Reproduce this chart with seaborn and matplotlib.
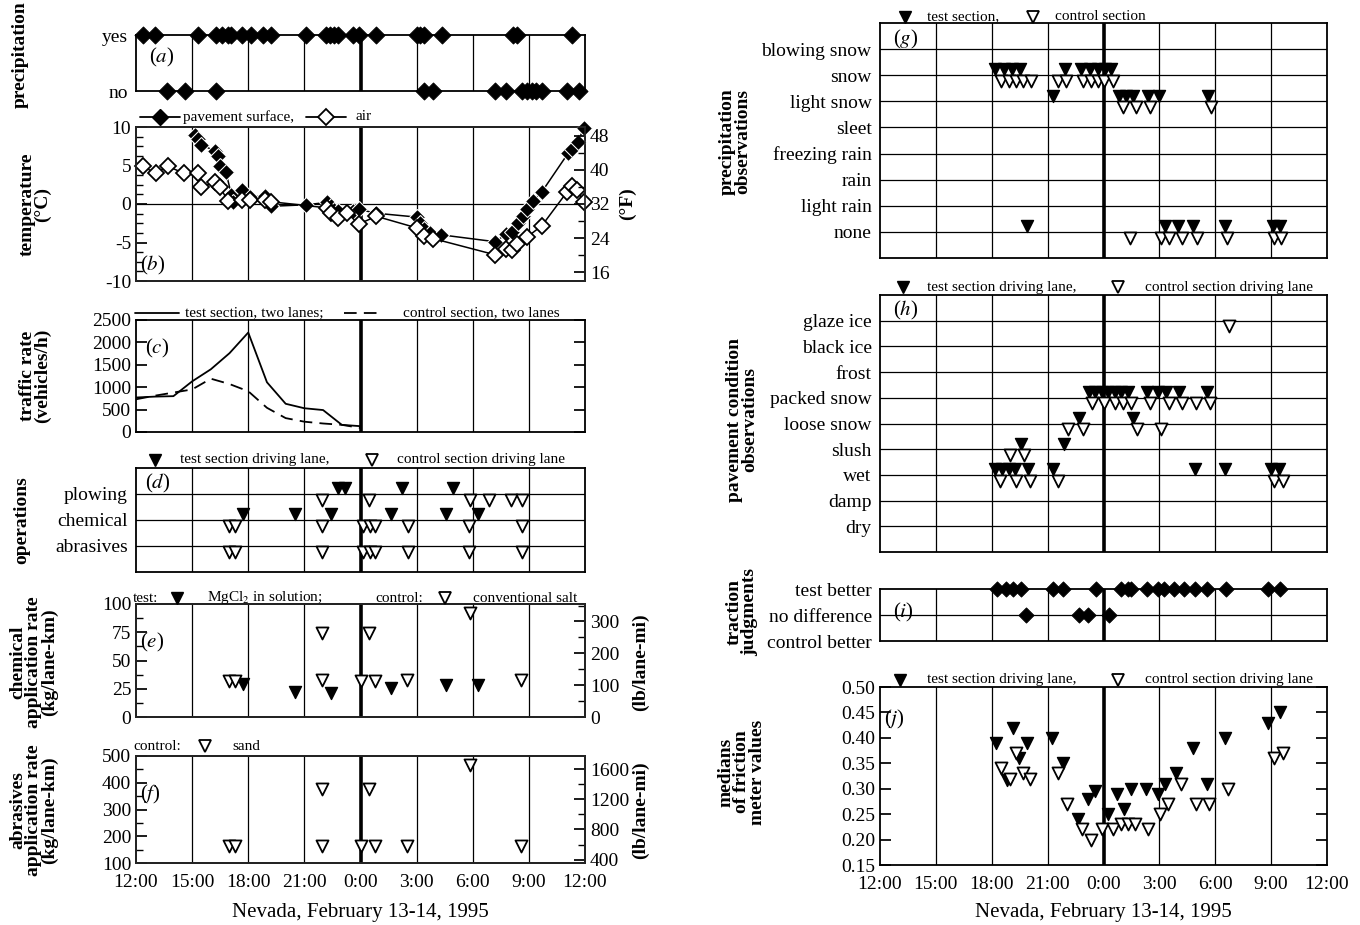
import matplotlib
matplotlib.use('Agg')
import numpy as np
import pandas as pd
import matplotlib.pyplot as plt
from matplotlib.lines import Line2D
from matplotlib.ticker import MultipleLocator
import seaborn as sns

sns.set_theme(style='ticks')
plt.rcParams['font.family'] = ['Liberation Serif', 'DejaVu Serif']
plt.rcParams['mathtext.fontset'] = 'stix'
plt.rcParams['axes.unicode_minus'] = False
plt.rcParams['text.color'] = 'black'
plt.rcParams['xtick.color'] = 'black'
plt.rcParams['ytick.color'] = 'black'

# time axis (hours after noon of Feb 13; 24 = midnight)
hour_ticks = [12, 15, 18, 21, 24, 27, 30, 33, 36]
hour_labels = ['12:00', '15:00', '18:00', '21:00', '0:00', '3:00', '6:00', '9:00', '12:00']

# (a) precipitation yes / no
precip_yes = [12.4, 13.0, 15.3, 16.3, 16.6, 16.9, 17.1, 17.65, 18.15, 18.8, 19.2, 21.1, 22.15,
              22.35, 22.6, 22.8, 23.6, 23.9, 24.85, 27.0, 27.2, 27.4, 28.35, 32.15, 32.35, 35.3]
precip_no = [13.65, 14.6, 16.3, 27.4, 27.9, 31.2, 31.8, 32.65, 32.9, 33.15, 33.4, 33.7, 35.05, 35.7]

# (b) temperature
pave_t = [15.18, 15.3, 15.5, 16.2, 16.4, 16.5, 16.8, 17.1, 17.2, 17.65, 18.1, 18.9, 19.2, 21.1,
          22.2, 22.4, 22.6, 22.8, 23.6, 23.9, 24.85, 27.0, 27.2, 27.4, 27.7, 28.3, 31.2, 31.8,
          32.1, 32.4, 32.7, 32.9, 33.2, 33.7, 35.1, 35.3, 35.6, 35.95]
pave_c = [8.9, 8.4, 7.7, 6.9, 6.2, 5.0, 4.2, 1.2, 0.3, 1.8, 0.9, 1.1, -0.3, -0.1,
          0.2, -0.2, -0.8, -0.9, -0.9, -0.7, -1.2, -1.7, -2.5, -3.2, -3.8, -4.0, -4.9, -3.9,
          -3.6, -2.5, -1.5, -0.6, 0.4, 1.6, 6.6, 7.2, 8.0, 9.9]
air_t = [12.35, 13.05, 13.7, 14.55, 15.3, 15.5, 16.2, 16.5, 16.9, 17.65, 18.1, 18.9, 19.2, 22.2,
         22.4, 22.8, 23.3, 23.9, 24.85, 27.0, 27.4, 27.9, 31.2, 31.8, 32.1, 32.35, 32.9, 33.7,
         35.05, 35.3, 35.55, 35.95]
air_c = [4.9, 4.0, 4.9, 4.0, 4.0, 2.2, 2.8, 2.2, 0.4, 0.5, 0.5, 0.5, 0.3, -0.5,
         -1.2, -1.8, -1.2, -2.6, -1.6, -3.1, -4.1, -4.5, -6.6, -5.8, -6.0, -5.2, -4.3, -2.8,
         1.6, 2.4, 1.8, 0.3]

# (c) traffic rate
traffic_t = [12, 13, 14, 15, 16, 17, 18, 19, 20, 21, 22, 23, 24]
traffic_test = [770, 790, 800, 1130, 1400, 1760, 2220, 1110, 630, 530, 490, 160, 130]
traffic_ctrl = [730, 810, 880, 950, 1190, 1070, 910, 540, 310, 230, 190, 160, 90]

# (d) operations
ops_rows = ['plowing', 'chemical', 'abrasives']
plow_test = [22.8, 23.15, 26.2, 28.95]
plow_ctrl = [21.95, 24.45, 29.85, 30.85, 32.05, 32.65]
chem_test = [17.7, 20.5, 22.4, 25.65, 28.55, 30.3]
chem_ctrl = [16.95, 17.3, 21.95, 24.15, 24.5, 24.8, 26.55, 29.8, 32.65]
abr_ctrl = [16.95, 17.3, 21.95, 24.15, 24.5, 24.8, 26.55, 29.8, 32.65]

# (e) chemical application rate (kg/lane-km)
chem_rate_test_t = [17.7, 20.5, 22.4, 25.65, 28.55, 30.3]
chem_rate_test = [29, 22, 21, 26, 28, 28]
chem_rate_ctrl_t = [16.95, 17.3, 21.95, 21.95, 24.0, 24.45, 24.75, 26.5, 29.85, 32.6]
chem_rate_ctrl = [32, 32, 74, 33, 32, 74, 32, 33, 92, 33]

# (f) abrasives application rate (kg/lane-km)
sand_t = [16.95, 17.3, 21.95, 21.95, 24.0, 24.45, 24.75, 26.5, 29.85, 32.6]
sand_rate = [165, 165, 375, 165, 165, 375, 165, 165, 465, 165]

# (g) precipitation observations
precip_cats = ['blowing snow', 'snow', 'light snow', 'sleet', 'freezing rain', 'rain',
               'light rain', 'none']
g_test = {'snow': [18.2, 18.65, 19.1, 19.5, 21.95, 22.8, 23.25, 23.7, 24.1, 24.4],
          'light snow': [21.3, 24.85, 25.2, 25.6, 26.4, 27.0, 29.6],
          'none': [19.9, 27.3, 28.0, 28.8, 30.55, 33.1, 33.5]}
g_ctrl = {'snow': [18.5, 18.9, 19.3, 19.7, 20.1, 21.55, 22.0, 22.9, 23.35, 23.7, 24.05, 24.5],
          'light snow': [25.05, 25.75, 26.5, 29.75],
          'none': [25.4, 27.1, 27.5, 28.2, 29.0, 30.65, 33.15, 33.55]}

# (h) pavement condition observations
pave_cats = ['glaze ice', 'black ice', 'frost', 'packed snow', 'loose snow', 'slush', 'wet',
             'damp', 'dry']
h_test = {'packed snow': [23.2, 23.55, 23.9, 24.25, 24.6, 24.95, 25.3, 26.35, 26.9, 27.35, 28.05, 29.55],
          'loose snow': [22.7, 25.6],
          'slush': [19.55, 21.9],
          'wet': [18.2, 18.55, 18.9, 19.25, 19.95, 21.3, 28.9, 30.55, 33.0, 33.4]}
h_ctrl = {'glaze ice': [30.75],
          'packed snow': [23.4, 24.0, 24.6, 25.05, 25.45, 26.5, 27.5, 28.2, 28.95, 29.7],
          'loose snow': [22.1, 22.9, 25.8, 27.1],
          'slush': [19.0, 19.75],
          'wet': [18.45, 19.3, 20.05, 21.55, 33.15, 33.65]}

# (i) traction judgments
judge_cats = ['test better', 'no difference', 'control better']
judge_test_better = [18.3, 18.75, 19.15, 19.55, 21.3, 21.85, 23.6, 24.95, 25.3, 25.5, 26.35,
                     26.9, 27.25, 27.8, 28.3, 28.9, 29.55, 30.6, 32.85, 33.45]
judge_no_diff = [19.85, 22.7, 23.15, 24.3]

# (j) friction medians
fr_test_t = [18.25, 18.8, 19.15, 19.45, 19.9, 21.25, 21.8, 22.65, 23.15, 23.55, 24.25, 24.75,
             25.1, 25.5, 26.3, 26.9, 27.3, 27.9, 28.8, 29.55, 30.5, 32.85, 33.45]
fr_test = [0.39, 0.317, 0.42, 0.36, 0.39, 0.40, 0.35, 0.24, 0.28, 0.295, 0.25, 0.29,
           0.26, 0.30, 0.30, 0.29, 0.31, 0.33, 0.38, 0.31, 0.40, 0.43, 0.45]
fr_ctrl_t = [18.5, 19.0, 19.3, 19.7, 20.05, 21.55, 22.05, 22.85, 23.35, 23.9, 24.5, 24.95,
             25.3, 25.7, 26.4, 27.05, 27.45, 28.15, 28.95, 29.65, 30.7, 33.15, 33.65]
fr_ctrl = [0.34, 0.32, 0.37, 0.33, 0.32, 0.33, 0.27, 0.22, 0.20, 0.22, 0.22, 0.23,
           0.23, 0.23, 0.22, 0.25, 0.27, 0.31, 0.27, 0.27, 0.30, 0.36, 0.37]

KG_TO_LB = 3.548  # kg/lane-km -> lb/lane-mi

W, H = 1360, 925
fig = plt.figure(figsize=(13.6, 9.25), dpi=100)


def add_ax(x0, x1, ytop, ybot):
    return fig.add_axes([x0 / W, 1 - ybot / H, (x1 - x0) / W, (ybot - ytop) / H])


def time_axis(ax, labels=False):
    ax.set_xlim(12, 36)
    ax.set_xticks(hour_ticks)
    ax.set_xticklabels(hour_labels if labels else [])
    ax.tick_params(axis='x', length=0, labelsize=14, pad=8)
    for t in hour_ticks[1:-1]:
        ax.axvline(t, color='black', lw=2.6 if t == 24 else 0.9, zorder=1)
    for s in ax.spines.values():
        s.set_linewidth(1.3)
        s.set_color('black')
    ax.set_xlabel('')
    ax.set_ylabel('')


def fig_text(x, y, s, size=11, ha='left', **kw):
    fig.text(x / W, 1 - y / H, s, ha=ha, va='center', fontsize=size, **kw)


def fig_key(x, y, kind):
    fy = 1 - y / H
    if kind == 'filled_v':
        art = Line2D([x / W], [fy], marker='v', markersize=8, color='black', ls='none')
    elif kind == 'open_v':
        art = Line2D([x / W], [fy], marker='v', markersize=8, mfc='white', mec='black',
                     mew=1.3, ls='none')
    elif kind == 'solid':
        art = Line2D([(x - 22) / W, (x + 22) / W], [fy, fy], color='black', lw=1.3)
    elif kind == 'dashed':
        art = Line2D([(x - 18) / W, (x + 18) / W], [fy, fy], color='black', lw=1.3,
                     dashes=(7, 4))
    elif kind == 'line_D':
        art = Line2D([(x - 20) / W, x / W, (x + 20) / W], [fy, fy, fy], color='black', lw=1.3,
                     marker='D', markersize=8, markevery=[1])
    else:
        art = Line2D([(x - 20) / W, x / W, (x + 20) / W], [fy, fy, fy], color='black', lw=1.3,
                     marker='D', markersize=8, mfc='white', mec='black', mew=1.3,
                     markevery=[1])
    fig.add_artist(art)


def tri(ax, xs, ys, filled):
    df = pd.DataFrame({'t': xs, 'v': ys})
    if filled:
        sns.scatterplot(data=df, x='t', y='v', marker='v', s=75, color='black',
                        edgecolor='black', linewidth=1, ax=ax, zorder=5, clip_on=False)
    else:
        sns.scatterplot(data=df, x='t', y='v', marker='v', s=75, color='white',
                        edgecolor='black', linewidth=1.3, ax=ax, zorder=5, clip_on=False)


LX0, LX1 = 136, 585
RX0, RX1 = 880, 1327
OFF = 0.22

# ---------------- (a)
ax_a = add_ax(LX0, LX1, 35, 91)
df_a = pd.DataFrame({'t': precip_yes + precip_no,
                     'v': [1] * len(precip_yes) + [0] * len(precip_no)})
sns.scatterplot(data=df_a, x='t', y='v', marker='D', s=75, color='black', edgecolor='black',
                ax=ax_a, zorder=5, clip_on=False)
ax_a.set_ylim(0, 1)
ax_a.set_yticks([0, 1])
ax_a.set_yticklabels(['no', 'yes'])
ax_a.tick_params(axis='y', length=0, labelsize=14, pad=6)
time_axis(ax_a)
ax_a.text(0.03, 0.6, r'($\mathit{a}$)', transform=ax_a.transAxes, fontsize=15, va='center')

# ---------------- (b)
ax_b = add_ax(LX0, LX1, 127, 281)
sns.lineplot(x=pave_t, y=pave_c, marker='D', markersize=8, color='black', lw=1.1,
             estimator=None, sort=False, ax=ax_b, zorder=4, clip_on=False)
sns.lineplot(x=air_t, y=air_c, marker='D', markersize=8, color='black', lw=1.1,
             markerfacecolor='white', markeredgecolor='black', markeredgewidth=1.3,
             estimator=None, sort=False, ax=ax_b, zorder=4, clip_on=False)
ax_b.axhline(0, color='black', lw=0.9, zorder=1)
ax_b.set_ylim(-10, 10)
ax_b.set_yticks([-10, -5, 0, 5, 10])
ax_b.yaxis.set_minor_locator(MultipleLocator(1.25))
ax_b.tick_params(axis='y', which='major', direction='in', length=8, labelsize=14)
ax_b.tick_params(axis='y', which='minor', direction='in', length=5)
time_axis(ax_b)
ax_b2 = ax_b.twinx()
ax_b2.set_ylim(14, 50)
ax_b2.set_yticks([16, 24, 32, 40, 48])
ax_b2.yaxis.set_minor_locator(MultipleLocator(4))
ax_b2.tick_params(axis='y', which='major', direction='in', length=8, labelsize=14)
ax_b2.tick_params(axis='y', which='minor', direction='in', length=5)
ax_b.text(0.01, 0.1, r'($\mathit{b}$)', transform=ax_b.transAxes, fontsize=15, va='center')

# ---------------- (c)
ax_c = add_ax(LX0, LX1, 320, 432)
sns.lineplot(x=traffic_t, y=traffic_test, color='black', lw=1.3, estimator=None, ax=ax_c,
             zorder=4)
sns.lineplot(x=traffic_t, y=traffic_ctrl, color='black', lw=1.3, estimator=None, ax=ax_c,
             zorder=4, dashes=False, linestyle=(0, (7, 4)))
ax_c.set_ylim(0, 2500)
ax_c.set_yticks([0, 500, 1000, 1500, 2000, 2500])
ax_c.tick_params(axis='y', direction='in', length=8, labelsize=14, right=True,
                 labelright=False)
time_axis(ax_c)
ax_c.text(0.02, 0.75, r'($\mathit{c}$)', transform=ax_c.transAxes, fontsize=15, va='center')

# ---------------- (d)
ax_d = add_ax(LX0, LX1, 468, 572)
ops_pos = {name: len(ops_rows) - i for i, name in enumerate(ops_rows)}
tri(ax_d, plow_test, [ops_pos['plowing'] + OFF] * len(plow_test), True)
tri(ax_d, chem_test, [ops_pos['chemical'] + OFF] * len(chem_test), True)
tri(ax_d, plow_ctrl, [ops_pos['plowing'] - OFF] * len(plow_ctrl), False)
tri(ax_d, chem_ctrl, [ops_pos['chemical'] - OFF] * len(chem_ctrl), False)
tri(ax_d, abr_ctrl, [ops_pos['abrasives'] - OFF] * len(abr_ctrl), False)
for name in ops_rows:
    ax_d.axhline(ops_pos[name], color='black', lw=0.9, zorder=1)
ax_d.set_ylim(0, 4)
ax_d.set_yticks([ops_pos[n] for n in ops_rows])
ax_d.set_yticklabels(ops_rows)
ax_d.tick_params(axis='y', length=0, labelsize=14, pad=6)
time_axis(ax_d)
ax_d.text(0.02, 0.85, r'($\mathit{d}$)', transform=ax_d.transAxes, fontsize=15, va='center')

# ---------------- (e)
ax_e = add_ax(LX0, LX1, 604, 717)
tri(ax_e, chem_rate_test_t, chem_rate_test, True)
tri(ax_e, chem_rate_ctrl_t, chem_rate_ctrl, False)
ax_e.set_ylim(0, 100)
ax_e.set_yticks([0, 25, 50, 75, 100])
ax_e.yaxis.set_minor_locator(MultipleLocator(12.5))
ax_e.tick_params(axis='y', which='major', direction='in', length=8, labelsize=14)
ax_e.tick_params(axis='y', which='minor', direction='in', length=5)
time_axis(ax_e)
ax_e2 = ax_e.twinx()
ax_e2.set_ylim(0, 100 * KG_TO_LB)
ax_e2.set_yticks([0, 100, 200, 300])
ax_e2.yaxis.set_minor_locator(MultipleLocator(50))
ax_e2.tick_params(axis='y', which='major', direction='in', length=8, labelsize=14)
ax_e2.tick_params(axis='y', which='minor', direction='in', length=5)
ax_e.text(0.01, 0.66, r'($\mathit{e}$)', transform=ax_e.transAxes, fontsize=15, va='center')

# ---------------- (f)
ax_f = add_ax(LX0, LX1, 756, 863)
tri(ax_f, sand_t, sand_rate, False)
ax_f.set_ylim(100, 500)
ax_f.set_yticks([100, 200, 300, 400, 500])
ax_f.yaxis.set_minor_locator(MultipleLocator(50))
ax_f.tick_params(axis='y', which='major', direction='in', length=8, labelsize=14)
ax_f.tick_params(axis='y', which='minor', direction='in', length=5)
time_axis(ax_f, labels=True)
ax_f2 = ax_f.twinx()
ax_f2.set_ylim(100 * KG_TO_LB, 500 * KG_TO_LB)
ax_f2.set_yticks([400, 800, 1200, 1600])
ax_f2.yaxis.set_minor_locator(MultipleLocator(200))
ax_f2.tick_params(axis='y', which='major', direction='in', length=8, labelsize=14)
ax_f2.tick_params(axis='y', which='minor', direction='in', length=5)
ax_f.text(0.01, 0.64, r'($\mathit{f}$)', transform=ax_f.transAxes, fontsize=15, va='center')


def category_panel(ax, cats, test, ctrl, label, ly):
    pos = {name: len(cats) - 1 - i for i, name in enumerate(cats)}
    for name, ts in test.items():
        tri(ax, ts, [pos[name] + OFF] * len(ts), True)
    for name, ts in ctrl.items():
        tri(ax, ts, [pos[name] - OFF] * len(ts), False)
    for name in cats:
        ax.axhline(pos[name], color='black', lw=0.9, zorder=1)
    ax.set_ylim(-1, len(cats))
    ax.set_yticks([pos[n] for n in cats])
    ax.set_yticklabels(cats)
    ax.tick_params(axis='y', length=0, labelsize=14, pad=6)
    time_axis(ax)
    ax.text(0.03, ly, label, transform=ax.transAxes, fontsize=15, va='center')


# ---------------- (g)
ax_g = add_ax(RX0, RX1, 23, 258)
category_panel(ax_g, precip_cats, g_test, g_ctrl, r'($\mathit{g}$)', 0.93)

# ---------------- (h)
ax_h = add_ax(RX0, RX1, 295, 552)
category_panel(ax_h, pave_cats, h_test, h_ctrl, r'($\mathit{h}$)', 0.94)

# ---------------- (i)
ax_i = add_ax(RX0, RX1, 589, 641)
judge_pos = {name: len(judge_cats) - 1 - i for i, name in enumerate(judge_cats)}
df_i = pd.DataFrame({'t': judge_test_better + judge_no_diff,
                     'v': [judge_pos['test better']] * len(judge_test_better)
                     + [judge_pos['no difference']] * len(judge_no_diff)})
sns.scatterplot(data=df_i, x='t', y='v', marker='D', s=60, color='black', edgecolor='black',
                ax=ax_i, zorder=5, clip_on=False)
ax_i.axhline(judge_pos['no difference'], color='black', lw=0.9, zorder=1)
ax_i.set_ylim(0, 2)
ax_i.set_yticks([judge_pos[n] for n in judge_cats])
ax_i.set_yticklabels(judge_cats)
ax_i.tick_params(axis='y', length=0, labelsize=14, pad=6)
time_axis(ax_i)
ax_i.text(0.03, 0.55, r'($\mathit{i}$)', transform=ax_i.transAxes, fontsize=15, va='center')

# ---------------- (j)
ax_j = add_ax(RX0, RX1, 687, 865)
tri(ax_j, fr_test_t, fr_test, True)
tri(ax_j, fr_ctrl_t, fr_ctrl, False)
ax_j.set_ylim(0.15, 0.50)
ax_j.set_yticks(np.arange(0.15, 0.501, 0.05))
ax_j.set_yticklabels([f'{v:.2f}' for v in np.arange(0.15, 0.501, 0.05)])
ax_j.tick_params(axis='y', direction='in', length=8, labelsize=14, right=True,
                 labelright=False)
time_axis(ax_j, labels=True)
ax_j.text(0.01, 0.82, r'($\mathit{j}$)', transform=ax_j.transAxes, fontsize=15, va='center')

# ---------------- axis titles
ylab = dict(size=14, ha='center', rotation=90, fontweight='bold', linespacing=0.9)
fig_text(20, 55, 'precipitation', **ylab)
fig_text(35, 204, 'temperature\n(°C)', **ylab)
fig_text(35, 376, 'traffic rate\n(vehicles/h)', **ylab)
fig_text(22, 520, 'operations', **ylab)
fig_text(34, 662, 'chemical\napplication rate\n(kg/lane-km)', **ylab)
fig_text(34, 810, 'abrasives\napplication rate\n(kg/lane-km)', **ylab)
fig_text(627, 204, '(°F)', **ylab)
fig_text(640, 662, '(lb/lane-mi)', **ylab)
fig_text(640, 810, '(lb/lane-mi)', **ylab)
fig_text(735, 142, 'precipitation\nobservations', **ylab)
fig_text(742, 420, 'pavement condition\nobservations', **ylab)
fig_text(742, 612, 'traction\njudgments', **ylab)
fig_text(742, 772, 'medians\nof friction\nmeter values', **ylab)
fig_text(360, 912, 'Nevada, February 13-14, 1995', size=15, ha='center')
fig_text(1103, 912, 'Nevada, February 13-14, 1995', size=15, ha='center')

# ---------------- keys above panels
fig_key(160, 117, 'line_D')
fig_text(183, 117, 'pavement surface,')
fig_key(326, 117, 'line_D_open')
fig_text(355, 117, 'air')
fig_key(157, 313, 'solid')
fig_text(185, 313, 'test section, two lanes;')
fig_key(362, 313, 'dashed')
fig_text(403, 313, 'control section, two lanes')
fig_key(155, 460, 'filled_v')
fig_text(180, 460, 'test section driving lane,')
fig_key(372, 460, 'open_v')
fig_text(397, 460, 'control section driving lane')
fig_text(133, 598, 'test:')
fig_key(177, 598, 'filled_v')
fig_text(207, 598, r'MgCl$_2$ in solution;')
fig_text(375, 598, 'control:')
fig_key(445, 598, 'open_v')
fig_text(473, 598, 'conventional salt')
fig_text(133, 746, 'control:')
fig_key(205, 746, 'open_v')
fig_text(232, 746, 'sand')
fig_key(905, 17, 'filled_v')
fig_text(927, 17, 'test section,')
fig_key(1033, 17, 'open_v')
fig_text(1055, 17, 'control section')
fig_key(903, 287, 'filled_v')
fig_text(927, 287, 'test section driving lane,')
fig_key(1118, 287, 'open_v')
fig_text(1145, 287, 'control section driving lane')
fig_key(900, 680, 'filled_v')
fig_text(927, 680, 'test section driving lane,')
fig_key(1118, 680, 'open_v')
fig_text(1145, 680, 'control section driving lane')

fig.savefig('out.png', dpi=100, facecolor='white')
